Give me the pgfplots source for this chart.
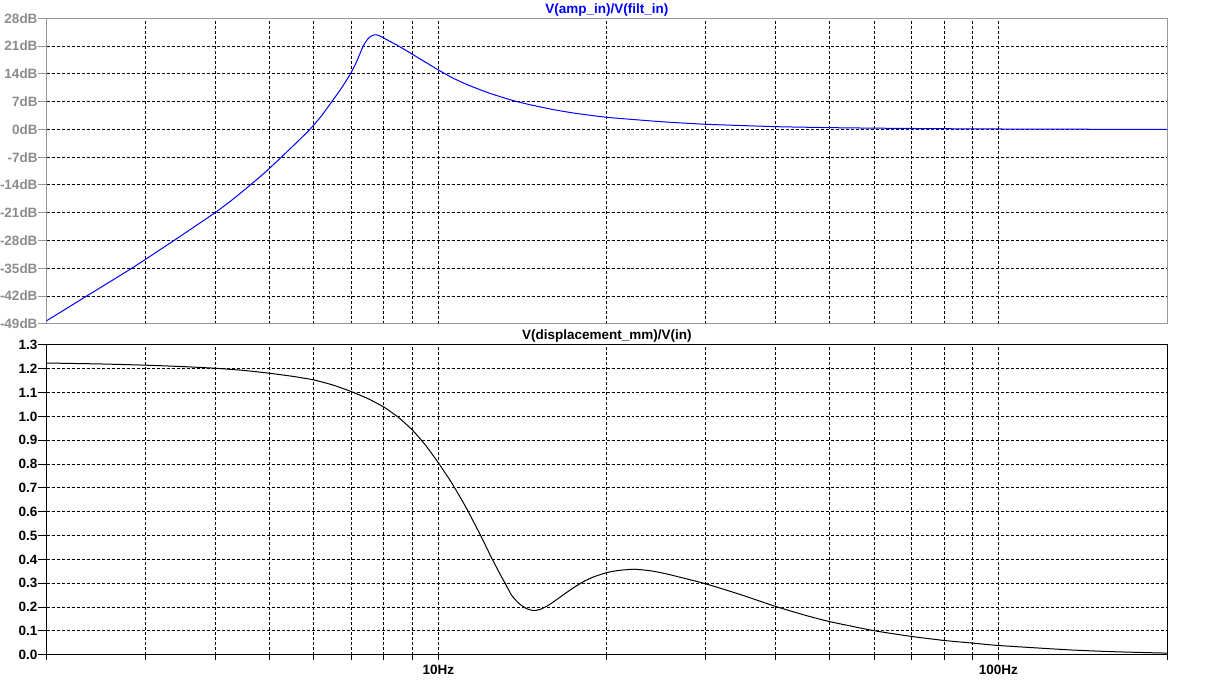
\documentclass[border=0pt]{standalone}
\usepackage{fontspec}
\setmainfont{Liberation Sans}
\usepackage{pgfplots}
\pgfplotsset{compat=1.18}
\definecolor{ltblue}{RGB}{0,0,255}
\definecolor{frgray}{RGB}{153,153,153}
\definecolor{lblgray}{RGB}{140,140,140}
\pgfplotstableread{
f db
2.0 -48.2
2.4 -41.3
2.836 -35.0
3.366 -28.1
3.994 -21.0
4.3 -17.6
4.61 -14.1
4.9 -10.9
5.21 -7.4
5.55 -3.7
5.9 0.0
6.17 3.2
6.45 6.9
6.71 10.3
6.97 14.0
7.15 17.1
7.34 20.9
7.45 22.4
7.55 23.3
7.65 23.75
7.75 23.85
7.85 23.6
8.0 23.0
8.5 21.0
9.0 18.9
9.5 16.9
10 15.0
10.6 13.0
11.3 11.2
12.3 9.2
13.5 7.4
14.5 6.3
15.9 5.1
17.5 4.1
20 3.05
25 1.95
30 1.3
40 0.7
50 0.45
60 0.32
70 0.24
80 0.18
100 0.11
130 0.06
160 0.03
200 0.0
}\topdata
\pgfplotstableread{
f v
2.0 1.224
2.5 1.220
3.0 1.215
3.5 1.209
4.0 1.202
4.5 1.193
5.0 1.181
5.5 1.168
6.0 1.153
6.5 1.131
7.0 1.104
7.5 1.074
8.0 1.039
8.5 0.995
9.0 0.942
9.5 0.878
10.0 0.806
10.55 0.724
11.0 0.652
11.3 0.603
11.93 0.496
12.43 0.410
12.95 0.330
13.2 0.295
13.5 0.252
13.8 0.225
14.06 0.208
14.4 0.193
14.75 0.186
15.0 0.187
15.26 0.192
15.6 0.203
15.9 0.215
16.3 0.233
16.8 0.255
17.3 0.276
17.7 0.291
18.3 0.311
19.0 0.328
20.0 0.345
21.0 0.354
22.4 0.359
24.0 0.352
25.7 0.338
30 0.298
34.7 0.252
40 0.203
45 0.167
50 0.139
60 0.101
70 0.077
80 0.060
90 0.049
100 0.039
133 0.021
160 0.013
200 0.007
}\botdata
\begin{document}
\begin{tikzpicture}[x=1pt,y=1pt]
\path (0,0) rectangle (1220,-681);
\begin{axis}[
  anchor=north west, at={(46.3pt,-18.3pt)},
  scale only axis, width=1120.7pt, height=305.7pt,
  xmode=log, xmin=2, xmax=200,
  xtick={10,100},
  minor xtick={2,3,4,5,6,7,8,9,10,20,30,40,50,60,70,80,90,100,200},
  grid=both,
  major grid style={black, dash pattern=on 3pt off 2pt, line width=1pt},
  minor grid style={black, dash pattern=on 3pt off 2pt, line width=1pt},
  tick align=outside, ytick pos=left, xtick pos=bottom,
  major tick length=9pt, minor tick length=5pt,
  major x tick style={draw=none},
  minor x tick style={draw=none},
  tick label style={font=\fontsize{13.5}{15}\selectfont\bfseries},
  yticklabel style={anchor=east, inner sep=0pt, text=lblgray},
  every axis title/.style={at={(0.5,1)}, anchor=base, yshift=5pt, inner sep=0pt, font=\fontsize{13.5}{15}\selectfont\bfseries},
  ymin=-49, ymax=28,
  ytick={-49,-42,-35,-28,-21,-14,-7,0,7,14,21,28},
  yticklabels={-49dB,-42dB,-35dB,-28dB,-21dB,-14dB,-7dB,0dB,7dB,14dB,21dB,28dB},
  xticklabels={},
  axis line style={frgray, line width=1pt},
  ytick style={draw=frgray, line width=1pt},
  title={\textcolor{ltblue}{V(amp\_in)/V(filt\_in)}},
]
\addplot[ltblue, line width=1pt, smooth, tension=0.3] table[x=f,y=db] {\topdata};
\end{axis}
\begin{axis}[
  anchor=north west, at={(46.3pt,-345pt)},
  scale only axis, width=1120.7pt, height=310pt,
  xmode=log, xmin=2, xmax=200,
  xtick={10,100},
  minor xtick={2,3,4,5,6,7,8,9,10,20,30,40,50,60,70,80,90,100,200},
  grid=both,
  major grid style={black, dash pattern=on 3pt off 2pt, line width=1pt},
  minor grid style={black, dash pattern=on 3pt off 2pt, line width=1pt},
  tick align=outside, ytick pos=left, xtick pos=bottom,
  major tick length=9pt, minor tick length=5pt,
  major x tick style={draw=none},
  tick label style={font=\fontsize{13.5}{15}\selectfont\bfseries},
  yticklabel style={anchor=east, inner sep=0pt},
  xticklabel style={yshift=2pt},
  every axis title/.style={at={(0.5,1)}, anchor=base, yshift=5pt, inner sep=0pt, font=\fontsize{13.5}{15}\selectfont\bfseries},
  ymin=0, ymax=1.3,
  ytick={0,0.1,0.2,0.3,0.4,0.5,0.6,0.7,0.8,0.9,1.0,1.1,1.2,1.3},
  yticklabels={0.0,0.1,0.2,0.3,0.4,0.5,0.6,0.7,0.8,0.9,1.0,1.1,1.2,1.3},
  xticklabels={10Hz,100Hz},
  axis line style={black, line width=1pt},
  tick style={draw=black, line width=1pt},
  title={V(displacement\_mm)/V(in)},
]
\addplot[black, line width=1pt, smooth, tension=0.3] table[x=f,y=v] {\botdata};
\end{axis}
\end{tikzpicture}
\end{document}
